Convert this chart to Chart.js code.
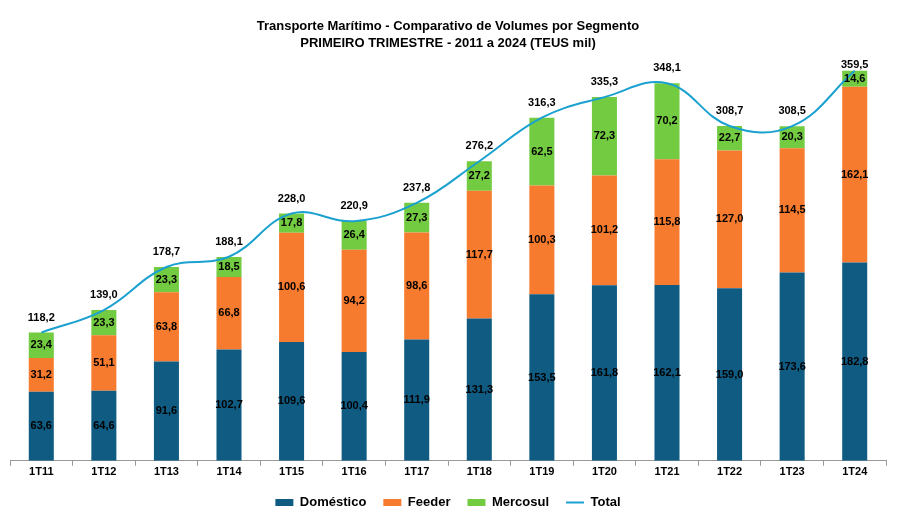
<!DOCTYPE html>
<html><head><meta charset="utf-8">
<script src="https://cdn.jsdelivr.net/npm/chart.js@4"></script>
<style>html,body{margin:0;padding:0;background:#fff}#wrap{width:900px;height:530px}</style>
</head><body><div id="wrap"><canvas id="c" width="900" height="530"></canvas></div>
<script>
const categories = ['1T11','1T12','1T13','1T14','1T15','1T16','1T17','1T18','1T19','1T20','1T21','1T22','1T23','1T24'];
const domestico = [63.6, 64.6, 91.6, 102.7, 109.6, 100.4, 111.9, 131.3, 153.5, 161.8, 162.1, 159.0, 173.6, 182.8];
const feeder = [31.2, 51.1, 63.8, 66.8, 100.6, 94.2, 98.6, 117.7, 100.3, 101.2, 115.8, 127.0, 114.5, 162.1];
const mercosul = [23.4, 23.3, 23.3, 18.5, 17.8, 26.4, 27.3, 27.2, 62.5, 72.3, 70.2, 22.7, 20.3, 14.6];
const total = [118.2, 139.0, 178.7, 188.1, 228.0, 220.9, 237.8, 276.2, 316.3, 335.3, 348.1, 308.7, 308.5, 359.5];
const legendOrder = ['Doméstico', 'Feeder', 'Mercosul', 'Total'];

const FONT = "'Liberation Sans', Arial, sans-serif";
const fmt = v => v.toFixed(1).replace('.', ',');

const labelPlugin = {
  id: 'valueLabels',
  afterDatasetsDraw(chart) {
    const ctx = chart.ctx;
    ctx.save();
    ctx.font = 'bold 11px ' + FONT;
    ctx.fillStyle = '#000';
    ctx.textAlign = 'center';
    ctx.textBaseline = 'middle';
    chart.data.datasets.forEach((ds, di) => {
      const meta = chart.getDatasetMeta(di);
      meta.data.forEach((el, i) => {
        const v = ds.data[i];
        if (ds.type === 'line') {
          ctx.fillText(fmt(v), el.x, Math.max(el.y - 15, chart.chartArea.top + 1));
        } else {
          ctx.fillText(fmt(v), el.x, (el.y + el.base) / 2);
        }
      });
    });
    ctx.restore();
  }
};

new Chart(document.getElementById('c'), {
  type: 'bar',
  data: {
    labels: categories,
    datasets: [
      { type: 'line', label: 'Total', data: total, borderColor: '#1BA1CF', backgroundColor: '#1BA1CF', borderWidth: 2, pointRadius: 0, tension: 0.4, pointStyle: 'line', order: 0 },
      { label: 'Doméstico', data: domestico, backgroundColor: '#0F5B82', stack: 's', pointStyle: 'rect', order: 1 },
      { label: 'Feeder', data: feeder, backgroundColor: '#F77B2E', stack: 's', pointStyle: 'rect', order: 1 },
      { label: 'Mercosul', data: mercosul, backgroundColor: '#72CB40', stack: 's', pointStyle: 'rect', order: 1 }
    ]
  },
  options: {
    responsive: false,
    animation: false,
    layout: { padding: { left: 10, right: 14, top: 10, bottom: 11 } },
    datasets: { bar: { barPercentage: 0.5, categoryPercentage: 0.8 } },
    scales: {
      x: {
        stacked: true,
        grid: { display: true, drawOnChartArea: false, drawTicks: true, tickLength: 5, color: '#999', offset: true },
        border: { display: true, color: '#999' },
        ticks: { color: '#000', font: { family: FONT, size: 11, weight: 'bold' }, padding: 0 }
      },
      y: { stacked: true, display: false, min: 0, max: 366 }
    },
    plugins: {
      title: {
        display: true,
        text: ['Transporte Marítimo - Comparativo de Volumes por Segmento', 'PRIMEIRO TRIMESTRE - 2011 a 2024 (TEUS mil)'],
        color: '#000',
        font: { family: FONT, size: 13, weight: 'bold', lineHeight: 1.3 },
        padding: { top: 8, bottom: 12 }
      },
      legend: {
        position: 'bottom',
        labels: {
          usePointStyle: true, pointStyleWidth: 18, boxWidth: 18, boxHeight: 7,
          color: '#000', font: { family: FONT, size: 13, weight: 'bold' }, padding: 17,
          sort: (a, b) => legendOrder.indexOf(a.text) - legendOrder.indexOf(b.text)
        }
      },
      tooltip: { enabled: false }
    }
  },
  plugins: [labelPlugin]
});
</script>
</body></html>
